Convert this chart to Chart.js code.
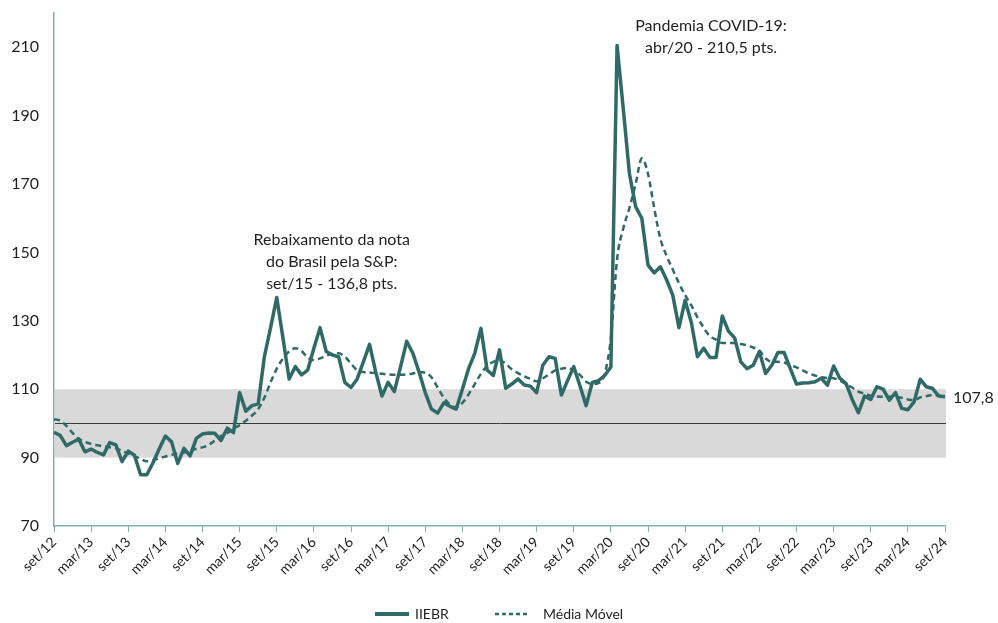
<!DOCTYPE html>
<html>
<head>
<meta charset="utf-8">
<script src="https://cdn.jsdelivr.net/npm/chart.js@4.4.1/dist/chart.umd.min.js"></script>
<style>
  html, body { margin: 0; padding: 0; background: #ffffff; }
  #wrap { width: 998px; height: 623px; position: relative; }
</style>
</head>
<body>
<div id="wrap"><canvas id="iiebrChart"></canvas></div>
<script>
/************************************************************************
 *                              CHART DATA
 ************************************************************************/
const monthNames = ["jan", "fev", "mar", "abr", "mai", "jun", "jul", "ago", "set", "out", "nov", "dez"];

// set/12 ... set/24, one label per month
const categories = [];
for (let k = 0; k < 145; k++) {
  const m = (8 + k) % 12;
  const y = 12 + Math.floor((8 + k) / 12);
  categories.push(monthNames[m] + "/" + y);
}

const tickLabels = [
  "set/12", "mar/13", "set/13", "mar/14", "set/14", "mar/15", "set/15", "mar/16", "set/16",
  "mar/17", "set/17", "mar/18", "set/18", "mar/19", "set/19", "mar/20", "set/20", "mar/21",
  "set/21", "mar/22", "set/22", "mar/23", "set/23", "mar/24", "set/24"
];

const yTickValues = [70, 90, 110, 130, 150, 170, 190, 210];

const iiebr = [
  97.4, 96.5, 93.5, 94.5, 95.4, 91.7, 92.5, 91.5, 90.8, 94.4, 93.7, 88.8,
  91.9, 90.7, 85.0, 85.0, 88.5, 92.5, 96.3, 94.6, 88.3, 92.7, 90.5, 95.6,
  96.9, 97.2, 97.1, 95.0, 98.6, 97.3, 109.0, 103.6, 105.2, 105.7, 119.5, 128.0,
  136.8, 125.0, 113.0, 116.6, 114.2, 115.6, 122.0, 128.0, 121.0, 120.0, 119.5, 112.0,
  110.5, 113.0, 118.0, 123.1, 115.0, 108.0, 112.0, 109.3, 116.5, 124.0, 120.5, 115.0,
  109.0, 104.2, 103.0, 106.0, 105.0, 104.2, 110.0, 116.0, 120.5, 127.8, 115.6, 114.0,
  121.5, 110.3, 111.5, 113.0, 111.2, 110.9, 109.0, 117.0, 119.5, 119.0, 108.3, 112.5,
  116.6, 111.0, 105.2, 112.0, 112.5, 114.0, 116.5, 210.5, 192.0, 173.0, 163.4, 160.0,
  146.3, 144.0, 145.8, 142.0, 137.5, 128.0, 136.0, 129.5, 119.5, 122.0, 119.3, 119.3,
  131.4, 127.0, 125.0, 118.0, 116.0, 117.0, 121.0, 114.6, 117.0, 120.7, 120.7, 116.0,
  111.5, 111.8, 111.9, 112.2, 113.2, 111.2, 116.8, 113.2, 111.7, 107.0, 103.1, 108.0,
  107.0, 110.7, 110.0, 106.8, 109.0, 104.4, 104.0, 106.3, 112.9, 110.7, 110.2, 108.0,
  107.8
];

const mediaMovel = [
  101.2, 100.8, 99.3, 97.2, 95.5, 94.6, 94.0, 93.6, 93.3, 93.0, 92.7, 92.0,
  91.2, 90.4, 89.6, 88.9, 89.2, 89.8, 90.3, 90.8, 91.2, 91.5, 92.0, 92.6,
  93.0, 93.7, 95.0, 96.3, 97.2, 98.4, 99.5, 100.8, 102.3, 104.2, 107.5, 112.0,
  116.0, 119.0, 121.0, 122.0, 121.2, 119.2, 118.5, 119.0, 119.8, 120.3, 120.5, 119.5,
  117.5, 115.5, 115.0, 114.9, 114.7, 114.5, 114.3, 114.2, 114.2, 114.3, 114.6, 115.0,
  114.8, 113.5, 110.5, 107.5, 105.5, 104.7, 106.0, 108.5, 111.5, 114.5, 116.8, 118.0,
  118.5, 117.5, 115.8, 114.7, 113.8, 113.0, 112.3, 113.2, 114.3, 115.5, 116.0, 116.2,
  115.5, 114.2, 112.2, 111.5, 111.8, 114.5, 125.0, 148.0, 157.0, 163.0, 170.0, 177.5,
  173.0, 163.0, 154.0, 149.0, 145.0, 141.0, 137.5, 134.5, 131.0, 128.0, 125.5, 124.5,
  123.5, 123.5, 123.5, 123.2, 122.8, 122.2, 121.3, 119.0, 118.0, 118.0, 117.8, 117.0,
  116.4, 115.5, 114.6, 114.0, 113.5, 113.3, 113.2, 112.5, 111.5, 110.5, 109.3, 108.7,
  108.1, 107.9, 107.8, 107.8, 107.7, 107.5, 107.0, 106.8, 107.6, 108.0, 108.3, 108.1,
  107.8
];

const bandLow = 90;
const bandHigh = 110;
const refLine = 100;

/************************************************************************
 *                              SETTINGS
 ************************************************************************/
const lineColor = "#2f6a66";
const axisColor = "#86aeab";
const textColor = "#1f1f1f";
const fontFamily = "Lato, 'Open Sans', sans-serif";

const annotations = [
  { index: 36, dx: 55, lines: ["Rebaixamento da nota", "do Brasil pela S&P:", "set/15 - 136,8 pts."], top: 240 },
  { index: 91, dx: 94, lines: ["Pandemia COVID-19:", "abr/20 - 210,5 pts."], top: 26 }
];

/************************************************************************
 *                              PLUGINS
 ************************************************************************/
const bandPlugin = {
  id: "bandPlugin",
  beforeDatasetsDraw(chart) {
    const { ctx, chartArea, scales } = chart;
    const yTop = scales.y.getPixelForValue(bandHigh);
    const yBot = scales.y.getPixelForValue(bandLow);
    const yMid = scales.y.getPixelForValue(refLine);
    const xLeft = chartArea.left + 1;
    const xRight = scales.x.getPixelForValue(categories.length - 1) + 1;
    ctx.save();
    ctx.fillStyle = "#d9d9d9";
    ctx.fillRect(xLeft, yTop, xRight - xLeft, yBot - yTop);
    ctx.strokeStyle = "#3a3a3a";
    ctx.lineWidth = 1;
    ctx.beginPath();
    ctx.moveTo(xLeft, Math.round(yMid) + 0.5);
    ctx.lineTo(xRight, Math.round(yMid) + 0.5);
    ctx.stroke();
    ctx.restore();
  }
};

const textPlugin = {
  id: "textPlugin",
  afterDraw(chart) {
    const { ctx, scales } = chart;
    ctx.save();
    ctx.fillStyle = textColor;
    ctx.font = "16px " + fontFamily;
    ctx.textAlign = "center";
    ctx.textBaseline = "middle";
    annotations.forEach((a) => {
      const x = scales.x.getPixelForValue(a.index) + a.dx;
      a.lines.forEach((t, j) => ctx.fillText(t, x, a.top + j * 22));
    });

    // last value label
    const last = iiebr[iiebr.length - 1];
    ctx.textAlign = "left";
    ctx.fillText(last.toFixed(1).replace(".", ","), 953, scales.y.getPixelForValue(last) + 1);

    // legend
    const legendY = 614;
    ctx.font = "14px " + fontFamily;
    chart.data.datasets.forEach((ds, i) => {
      const x0 = i === 0 ? 375 : 495;
      ctx.strokeStyle = ds.borderColor;
      ctx.lineWidth = i === 0 ? 4 : 2.5;
      ctx.setLineDash(i === 0 ? [] : [4, 3]);
      ctx.beginPath();
      ctx.moveTo(x0, legendY);
      ctx.lineTo(x0 + 34, legendY);
      ctx.stroke();
      ctx.setLineDash([]);
      ctx.fillText(ds.label, x0 + (i === 0 ? 40 : 48), legendY);
    });
    ctx.restore();
  }
};

/************************************************************************
 *                              CHART
 ************************************************************************/
const config = {
  type: "line",
  data: {
    labels: categories,
    datasets: [
      {
        label: "IIEBR",
        data: iiebr,
        borderColor: lineColor,
        backgroundColor: lineColor,
        borderWidth: 3.5,
        pointRadius: 0,
        tension: 0,
        borderJoinStyle: "round",
        order: 1
      },
      {
        label: "Média Móvel",
        data: mediaMovel,
        borderColor: lineColor,
        backgroundColor: lineColor,
        borderWidth: 2.5,
        borderDash: [6, 4],
        pointRadius: 0,
        cubicInterpolationMode: "monotone",
        order: 2
      }
    ]
  },
  options: {
    responsive: true,
    maintainAspectRatio: false,
    animation: false,
    layout: { padding: { left: 0, right: 53, top: 13, bottom: 35 } },
    plugins: {
      tooltip: { enabled: false },
      legend: { display: false }
    },
    scales: {
      x: {
        type: "category",
        offset: false,
        border: { color: axisColor, width: 1.5 },
        grid: {
          drawOnChartArea: false,
          drawTicks: true,
          tickLength: 6,
          color: axisColor
        },
        ticks: {
          autoSkip: false,
          maxRotation: 45,
          minRotation: 45,
          padding: 2,
          color: textColor,
          font: { family: fontFamily, size: 14 },
          callback: function (value, index) {
            return index % 6 === 0 ? tickLabels[index / 6] : null;
          }
        },
        afterFit(scale) { scale.height = 62; }
      },
      y: {
        min: 70,
        max: 220,
        border: { color: axisColor, width: 1.5 },
        grid: { display: false, drawTicks: false },
        afterBuildTicks(scale) {
          scale.ticks = yTickValues.map((v) => ({ value: v }));
        },
        ticks: {
          padding: 15,
          color: textColor,
          font: { family: fontFamily, size: 16 }
        },
        afterFit(scale) {
          scale.width = 54;
          scale.paddingTop = 0;
          scale.paddingBottom = 0;
        }
      }
    }
  },
  plugins: [bandPlugin, textPlugin]
};

new Chart(document.getElementById("iiebrChart"), config);
</script>
</body>
</html>
